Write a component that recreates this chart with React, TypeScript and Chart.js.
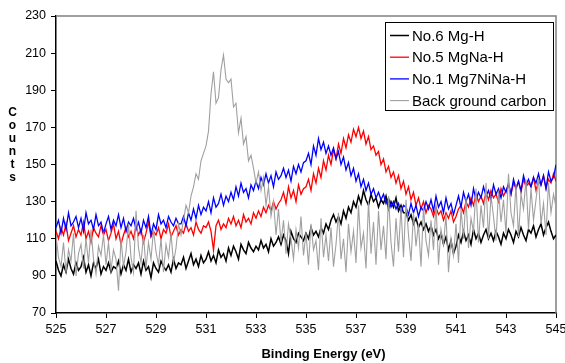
import { useEffect, useRef } from "react";
import { Chart, registerables } from "chart.js";

Chart.register(...registerables);

const startEnergy = 525;
const stepEnergy = 0.1;

const seriesNames = ["No.6 Mg-H", "No.5 MgNa-H", "No.1 Mg7NiNa-H", "Back ground carbon"];
const seriesColors = ["#000000", "#ff0000", "#0000ff", "#a0a0a0"];
const seriesWidths = [1.5, 1.3, 1.3, 1.1];

const mgH = [
  98, 93, 90, 96, 92, 99, 94, 91, 97, 93,
  95, 100, 92, 96, 90, 97, 94, 99, 91, 95,
  93, 97, 92, 95, 94, 98, 91, 96, 93, 99,
  92, 96, 94, 97, 91, 98, 93, 95, 89, 97,
  94, 92, 98, 95, 93, 96, 92, 99, 94, 97,
  96, 100, 94, 98, 102, 96, 99, 95, 101, 97,
  99, 103, 98, 101, 97, 104, 100, 102, 98, 105,
  101, 106, 103, 99, 107, 104, 102, 108, 105, 103,
  106, 104, 109, 105, 107, 103, 110, 106, 108, 111,
  107, 112, 109, 102, 114, 110, 108, 113, 111, 109,
  113, 110, 116, 112, 114, 111, 116, 113, 118, 115,
  120, 123, 119, 122, 118, 125, 121, 127, 124, 130,
  127, 133, 129, 136, 131, 128, 134, 130, 132, 127,
  131, 129, 133, 126, 130, 127, 132, 125, 128, 124,
  124, 120, 123, 118, 121, 116, 119, 115, 118, 114,
  117, 112, 115, 110, 113, 107, 111, 104, 109, 102,
  106, 112, 108, 114, 109, 112, 107, 115, 110, 113,
  108, 112, 115, 110, 113, 109, 114, 111, 107, 113,
  110, 115, 112, 108, 114, 111, 116, 112, 109, 115,
  113, 117, 111, 115, 118, 112, 116, 119, 114, 110,
  112,
];

const mgNaH = [
  114, 110, 116, 112, 118, 109, 113, 117, 111, 115,
  112, 119, 110, 114, 108, 116, 113, 111, 117, 112,
  115, 109, 113, 118, 110, 114, 107, 112, 116, 111,
  114, 110, 117, 112, 115, 108, 113, 119, 111, 114,
  112, 116, 110, 115, 113, 118, 111, 114, 117, 112,
  115, 113, 118, 114, 116, 112, 119, 115, 113, 117,
  116, 119, 114, 104, 117, 120, 115, 118, 116, 121,
  118, 122, 117, 120, 116, 123, 119, 121, 118, 124,
  121, 125, 122, 127, 124, 128, 125, 130, 126, 129,
  131, 135, 129, 138, 132, 136, 130, 139, 134, 137,
  138, 142, 136, 145, 140, 148, 143, 152, 147, 155,
  150, 158, 153, 161, 156, 164, 159, 166, 162, 169,
  165, 170, 164, 168, 161, 165, 158, 160, 155, 157,
  150, 153, 146, 149, 143, 146, 140, 144, 137, 141,
  134, 138, 131, 135, 128, 132, 126, 130, 124, 128,
  126, 122, 127, 123, 125, 120, 124, 121, 125, 119,
  122, 126, 128, 124, 130, 127, 132, 128, 134, 130,
  133, 129, 135, 131, 136, 132, 134, 130, 137, 133,
  136, 139, 134, 140, 137, 141, 135, 142, 138, 140,
  138, 143, 136, 141, 139, 144, 137, 142, 140, 145,
  141,
];

const mg7NiNaH = [
  116, 120, 113, 121, 115, 124, 117, 119, 122, 116,
  121, 114, 124, 118, 120, 115, 123, 117, 119, 113,
  118, 122, 115, 120, 117, 123, 116, 121, 114, 119,
  117, 121, 115, 119, 113, 120, 116, 122, 112, 118,
  115, 123, 118, 120, 116, 122, 119, 117, 121, 118,
  118, 122, 117, 124, 120, 126, 121, 128, 123, 127,
  125, 130, 124, 132, 127, 129, 134, 128, 133, 130,
  135, 131, 138, 133, 140, 135, 137, 132, 139, 136,
  141, 137, 143, 139, 145, 140, 144, 138, 146, 142,
  144, 148, 143, 147, 141, 149, 145, 150, 146, 151,
  152, 156, 150, 160, 155, 164, 158, 162, 156, 160,
  155, 159, 153, 157, 150, 154, 147, 151, 144, 148,
  141, 145, 138, 142, 136, 140, 134, 137, 132, 135,
  131, 134, 129, 132, 127, 130, 126, 129, 124, 128,
  127, 123, 129, 124, 128, 122, 127, 125, 130, 126,
  131, 125, 133, 127, 130, 124, 132, 126, 129, 123,
  128, 133, 127, 135, 130, 134, 128, 137, 131, 135,
  132, 138, 133, 136, 131, 139, 134, 137, 132, 138,
  135, 140, 134, 142, 137, 141, 136, 144, 139, 142,
  138, 143, 140, 145, 139, 144, 137, 146, 141, 143,
  150,
];

const carbon = [
  112, 100, 95, 108, 92, 104, 98, 113, 90, 102,
  107, 94, 110, 97, 115, 99, 91, 106, 101, 112,
  96, 108, 93, 104, 99, 82, 110, 95, 103, 118,
  100, 92, 125, 105, 97, 112, 94, 108, 99, 115,
  103, 96, 110, 92, 107, 100, 113, 97, 105, 118,
  112, 120, 128, 124, 133, 138, 145, 142, 152, 156,
  160, 168, 188, 200, 183, 186, 201, 209, 196, 194,
  196, 181, 183, 167, 175, 161, 165, 152, 155, 148,
  140, 146, 136, 143, 128, 138, 122, 130, 112, 126,
  108, 120, 102, 118, 110, 99, 115, 105, 122, 101,
  113, 96, 118, 104, 109, 93, 121, 100, 112, 98,
  116, 95, 107, 124, 99, 110, 92, 118, 103, 114,
  97, 128, 105, 113, 94, 130, 102, 119, 96, 125,
  104, 117, 99, 133, 108, 95, 121, 103, 127, 100,
  131, 112, 98, 124, 106, 118, 95, 127, 109, 101,
  120, 104, 129, 96, 115, 107, 123, 92, 110, 101,
  118, 97, 126, 110, 132, 105, 121, 114, 137, 108,
  128, 116, 140, 110, 133, 122, 109, 136, 119, 131,
  113, 145, 124, 117, 139, 111, 134, 126, 142, 115,
  137, 120, 131, 143, 118, 129, 112, 140, 124, 134,
  127,
];

const seriesValues = [mgH, mgNaH, mg7NiNaH, carbon];

const xMin = 525;
const xMax = 545;
const xStep = 2;
const yMin = 70;
const yMax = 230;
const yStep = 20;

const xTitle = "Binding Energy (eV)";
const yTitle = "Counts";

const FONT = "'Liberation Sans', Arial, sans-serif";

const decorPlugin = {
  id: "decor",
  beforeDatasetsDraw(chart: any) {
    const ctx = chart.ctx;
    const a = chart.chartArea;
    ctx.save();
    ctx.strokeStyle = "#808080";
    ctx.lineWidth = 1.5;
    ctx.beginPath();
    ctx.moveTo(a.left, a.top);
    ctx.lineTo(a.right, a.top);
    ctx.lineTo(a.right, a.bottom);
    ctx.stroke();
    ctx.restore();
  },
  afterDraw(chart: any) {
    const ctx = chart.ctx;
    const a = chart.chartArea;
    ctx.save();
    // legend box
    const bx = 385.5, by = 22.5, bw = 168, bh = 88;
    ctx.fillStyle = "#ffffff";
    ctx.fillRect(bx, by, bw, bh);
    ctx.strokeStyle = "#000000";
    ctx.lineWidth = 1;
    ctx.strokeRect(bx, by, bw, bh);
    ctx.font = `15px ${FONT}`;
    ctx.textBaseline = "middle";
    ctx.textAlign = "left";
    seriesNames.forEach((name, i) => {
      const cy = 35.5 + i * 21.7;
      ctx.strokeStyle = seriesColors[i];
      ctx.lineWidth = seriesWidths[i];
      ctx.beginPath();
      ctx.moveTo(390, cy);
      ctx.lineTo(409, cy);
      ctx.stroke();
      ctx.fillStyle = "#000000";
      ctx.fillText(name, 412, cy + 1);
    });
    // x title
    ctx.font = `bold 13px ${FONT}`;
    ctx.textAlign = "center";
    ctx.textBaseline = "middle";
    ctx.fillStyle = "#000000";
    ctx.fillText(xTitle, 323.5, 354.5);
    // y title, stacked letters
    ctx.font = `bold 12px ${FONT}`;
    ctx.textBaseline = "alphabetic";
    yTitle.split("").forEach((ch, i) => {
      ctx.fillText(ch, 12.5, 116 + i * 13);
    });
    ctx.restore();
  },
};

export default function App() {
  const canvasRef = useRef<HTMLCanvasElement | null>(null);

  useEffect(() => {
    if (!canvasRef.current) return;
    const datasets = seriesValues.map((vals, si) => ({
      label: seriesNames[si],
      data: vals.map((v, i) => ({ x: +(startEnergy + i * stepEnergy).toFixed(1), y: v })),
      borderColor: seriesColors[si],
      backgroundColor: seriesColors[si],
      borderWidth: seriesWidths[si],
      pointRadius: 0,
      tension: 0,
      fill: false,
      order: 4 - si,
    }));

    const chart = new Chart(canvasRef.current, {
      type: "line",
      data: { datasets },
      options: {
        animation: false,
        responsive: false,
        devicePixelRatio: 1,
        layout: { padding: { left: 0, right: 9, top: 16, bottom: 0 } },
        plugins: {
          legend: { display: false },
          tooltip: { enabled: false },
          title: { display: false },
        },
        scales: {
          x: {
            type: "linear",
            min: xMin,
            max: xMax,
            grid: {
              display: true,
              drawOnChartArea: false,
              drawTicks: true,
              tickLength: 5,
              color: "#000000",
              lineWidth: 1,
            },
            border: { display: true, color: "#000000", width: 1.5 },
            ticks: {
              stepSize: xStep,
              color: "#000000",
              font: { family: FONT, size: 12.5 },
              padding: 4,
              maxRotation: 0,
              autoSkip: false,
              callback: (v: any) => String(v),
            },
            afterFit: (scale: any) => {
              scale.height = 50;
              scale.paddingLeft = 0;
              scale.paddingRight = 0;
            },
          },
          y: {
            type: "linear",
            min: yMin,
            max: yMax,
            grid: {
              display: true,
              drawOnChartArea: false,
              drawTicks: true,
              tickLength: 5,
              color: "#000000",
              lineWidth: 1,
            },
            border: { display: true, color: "#000000", width: 1.5 },
            ticks: {
              stepSize: yStep,
              color: "#000000",
              font: { family: FONT, size: 12.5 },
              padding: 5,
              autoSkip: false,
              callback: (v: any) => String(v),
            },
            afterFit: (scale: any) => {
              scale.width = 56;
              scale.paddingTop = 0;
              scale.paddingBottom = 0;
            },
          },
        },
      },
      plugins: [decorPlugin],
    });
    return () => chart.destroy();
  }, []);

  return (
    <div style={{ position: "fixed", left: 0, top: 0, width: 565, height: 363, background: "#ffffff" }}>
      <canvas ref={canvasRef} width={565} height={363} style={{ display: "block", width: 565, height: 363 }} />
    </div>
  );
}
